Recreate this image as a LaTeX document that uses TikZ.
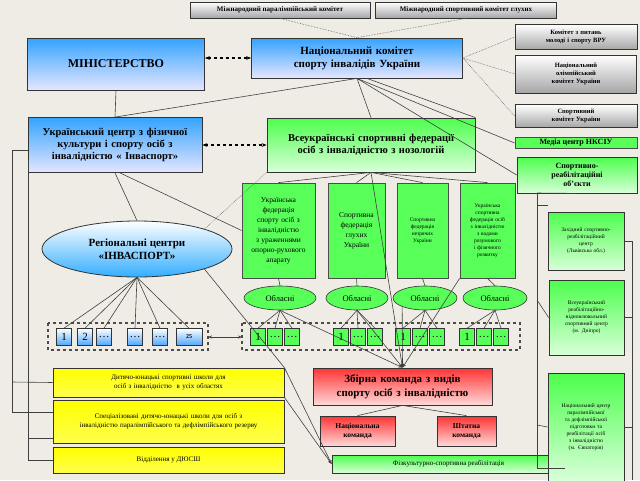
\documentclass[tikz,border=0pt]{standalone}
\usepackage{fontspec}
\setmainfont{Liberation Serif}
\usetikzlibrary{shapes.geometric,arrows.meta}
\definecolor{bg}{RGB}{238,236,228}
\begin{document}
\begin{tikzpicture}[x=1pt,y=-1pt,
 bx/.style={draw=black!80,line width=0.8pt,align=center,font=\bfseries,inner sep=1pt},
 blue/.style={bx,top color=blue!45!cyan!80,bottom color=white!90!blue},
 gray/.style={bx,top color=white,bottom color=black!35},
 grn/.style={bx,fill=green!65,draw=black!70},
 grg/.style={bx,top color=green!70,bottom color=white!85!green},
 yel/.style={bx,font=\normalfont,top color=yellow,bottom color=yellow!70!white},
 red/.style={bx,top color=red!80,bottom color=white!85!red},
 ln/.style={black!75,line width=0.6pt},
 dl/.style={black!60,densely dotted,line width=0.6pt},
 sq/.style={draw=black!80,line width=0.6pt,minimum width=15pt,minimum height=17pt,inner sep=0pt,font=\fontsize{11}{11}\selectfont}]
\fill[bg] (0,0) rectangle (640,480);
\useasboundingbox (0,0) rectangle (640,480);
\node[gray,font=\bfseries\fontsize{7}{8}\selectfont,minimum width=180,minimum height=16] (mpc) at (280,10) {Міжнародний паралімпійський комітет};
\node[gray,font=\bfseries\fontsize{7}{8}\selectfont,minimum width=181,minimum height=16] (msk) at (466,10) {Міжнародний спортивний комітет глухих};
\node[blue,font=\bfseries\fontsize{12}{14}\selectfont,minimum width=177,minimum height=52] (min) at (116,64) {МІНІСТЕРСТВО};
\node[blue,font=\bfseries\fontsize{11}{13}\selectfont,minimum width=211,minimum height=40,text width=190] (nk) at (357,58) {Національний комітет спорту інвалідів України};
\node[gray,font=\bfseries\fontsize{6.5}{8}\selectfont,minimum width=122,minimum height=25,text width=95] (kvru) at (576,37) {Комітет з питань молоді і спорту ВРУ};
\node[gray,font=\bfseries\fontsize{6.5}{8}\selectfont,minimum width=121,minimum height=38,text width=75] (nok) at (576,74) {Національний олімпійський комітет України};
\node[gray,font=\bfseries\fontsize{6.5}{8}\selectfont,minimum width=122,minimum height=23,text width=70] (sk) at (576,116) {Спортивний комітет України};
\node[grn,font=\bfseries\fontsize{8}{9}\selectfont,minimum width=122,minimum height=11] (media) at (576,143) {Медіа центр НКСІУ};
\node[grg,font=\bfseries\fontsize{8}{9}\selectfont,minimum width=120,minimum height=36,text width=80] (sro) at (577,175) {Спортивно-реабілітаційні об’єкти};
\node[blue,font=\bfseries\fontsize{10.5}{12}\selectfont,minimum width=174,minimum height=55,text width=165] (uc) at (115,145) {Український центр з фізичної культури і спорту осіб з інвалідністю « Інваспорт»};
\node[grg,font=\bfseries\fontsize{10.5}{12}\selectfont,minimum width=208,minimum height=54,text width=185] (vsf) at (371,145) {Всеукраїнські спортивні федерації осіб з інвалідністю з нозологій};
\node[grn,font=\normalfont\fontsize{7.5}{10}\selectfont,minimum width=73,minimum height=95,text width=56] (f1) at (278.5,230.5) {Українська федерація спорту осіб з інвалідністю з ураженнями опорно-рухового апарату};
\node[grn,font=\normalfont\fontsize{7.5}{10}\selectfont,minimum width=57,minimum height=95,text width=44] (f2) at (356.5,230.5) {Спортивна федерація глухих України};
\node[grn,font=\normalfont\fontsize{5.5}{7}\selectfont,minimum width=51,minimum height=95,text width=36] (f3) at (422.5,230.5) {Спортивна федерація незрячих України};
\node[grn,font=\normalfont\fontsize{5.5}{7}\selectfont,minimum width=55,minimum height=95,text width=40] (f4) at (487.5,230.5) {Українська спортивна федерація осіб з інвалідністю з вадами розумового і фізичного розвитку};
\node[ellipse,draw=black!80,line width=0.8pt,top color=white,bottom color=blue!40!cyan!80,font=\bfseries\fontsize{11}{13}\selectfont,minimum width=190,minimum height=56,align=center] (rc) at (137,249) {Регіональні центри\\«ІНВАСПОРТ»};
\foreach \n/\x/\w in {o1/280/72,o2/357/62,o3/425/64,o4/495/64}
 \node[ellipse,draw=black!80,line width=0.6pt,fill=green!65,minimum width=\w,minimum height=24,inner sep=0pt,font=\fontsize{8.5}{9}\selectfont] (\n) at (\x,298) {Обласні};
\draw[dashed,line width=1.5pt,black!70] (48,323) rectangle (208,350);
\draw[dashed,line width=1.5pt,black!70] (242,323) rectangle (520,350);
\coordinate (ld) at (208,337); \coordinate (rd) at (242,337);
\foreach \n/\x/\t in {b1/64/1,b2/85/2,b3/104/\dots,b4/135/\dots,b5/160/\dots}
 \node[sq,top color=white,bottom color=blue!50!cyan!70] (\n) at (\x,337) {\t};
\node[sq,minimum width=26,top color=white,bottom color=blue!50!cyan!70,font=\bfseries\fontsize{6}{7}\selectfont] (b6) at (189,337) {25};
\foreach \g/\x in {1/258,2/341,3/403,4/467}{
 \node[sq,fill=green!65] (g\g a) at (\x,337) {1};
 \node[sq,fill=green!65] (g\g b) at (\x+17,337) {\dots};
 \node[sq,fill=green!65] (g\g c) at (\x+34,337) {\dots};}
\node[yel,font=\fontsize{7}{9}\selectfont,minimum width=231,minimum height=29,text width=190] (y1) at (168.5,382.5) {Дитячо-юнацькі спортивні школи для осіб з інвалідністю \ в усіх областях};
\node[yel,font=\fontsize{7}{9}\selectfont,minimum width=231,minimum height=43,text width=195] (y2) at (168.5,421.5) {Спеціалізовані дитячо-юнацькі школи для осіб з інвалідністю паралімпійського та дефлімпійського резерву};
\node[yel,font=\fontsize{7}{9}\selectfont,minimum width=231,minimum height=26] (y3) at (168.5,460) {Відділення у ДЮСШ};
\node[red,font=\bfseries\fontsize{11}{14}\selectfont,minimum width=179,minimum height=37,text width=165] (zb) at (402.5,386.5) {Збірна команда з видів спорту осіб з інвалідністю};
\node[red,font=\bfseries\fontsize{7.5}{9}\selectfont,minimum width=75,minimum height=30,text width=60] (nc) at (357.5,431) {Національна команда};
\node[red,font=\bfseries\fontsize{7.5}{9}\selectfont,minimum width=59,minimum height=30,text width=45] (sc) at (466.5,431) {Штатна команда};
\node[grg,font=\normalfont\fontsize{7}{8}\selectfont,minimum width=233,minimum height=18] (fr) at (448.5,464) {Фізкультурно-спортивна реабілітація};
\node[grg,font=\normalfont\fontsize{5.5}{7}\selectfont,minimum width=76,minimum height=58,text width=52] (r1) at (586,241) {Західний спортивно-реабілітаційний центр (Львівська обл.)};
\node[grg,font=\normalfont\fontsize{5.5}{7}\selectfont,minimum width=75,minimum height=75,text width=56] (r2) at (586.5,317.5) {Всеукраїнський реабілітаційно-відновлювальний спортивний центр (м. Дніпро)};
\node[grg,font=\normalfont\fontsize{5.5}{7}\selectfont,minimum width=76,minimum height=108,text width=56] (r3) at (586,427) {Національний центр паралімпійської та дефлімпійської підготовки та реабілітації осіб з інвалідністю (м. Євпаторія)};
% dashed arrows
\draw[dashed,line width=1.2pt,{Stealth[length=5pt]}-{Stealth[length=5pt]}] (min.east|-nk) -- (nk.west);
\draw[dashed,line width=1.2pt,{Stealth[length=5pt]}-{Stealth[length=5pt]}] (uc.east) -- (vsf.west);
% dotted links
\draw[dl] (mpc.south) -- (nk.north); \draw[dl] (msk.south) -- (nk.north);
\draw[dl] (nk.east) -- (kvru.west); \draw[dl] (nk.east) -- (nok.west); \draw[dl] (nk.east) -- (sk.west);
\draw[dl] (vsf.south west) -- (rc.north east);
% solid links
\draw[ln] (min.south) -- (uc.north);
\draw[ln] (nk.south) -- (uc.north);
\draw[ln] (nk.south) -- (vsf.north);
\draw[ln] (nk.south) ++(10,0) -- (vsf.north east);
\draw[ln] (nk.south) -- (media.west);
\draw[ln] (nk.south) -- (sro.west);
\foreach \f in {f1,f2,f3,f4} \draw[ln] (vsf.south) -- (\f.north);
\draw[ln] (uc.south) -- (rc.north);
\draw[ln] (uc.south) ++(5,0) -- (f1.west);
\foreach \b in {b1,b2,b3,b4,b5,b6} \draw[ln] (rc.south) -- (\b.north);
\foreach \f/\o in {f1/o1,f2/o2,f3/o3,f4/o4} \draw[ln] (\f.south) -- (\o.north);
\foreach \g/\o in {1/o1,2/o2,3/o3,4/o4}{\draw[ln] (\o.south) -- (g\g a.north); \draw[ln] (\o.south) -- (g\g b.north); \draw[ln] (\o.south) -- (g\g c.north);}
\draw[ln,-{Stealth[length=4pt]}] (o1.south) -- (zb.north);
\draw[ln,-{Stealth[length=4pt]}] (o2.south) -- (zb.north);
\draw[ln,-{Stealth[length=4pt]}] (o3.south west) -- (zb.north);
\draw[ln,-{Stealth[length=4pt]}] (f4.south west) -- (zb.north);
\draw[ln,-{Stealth[length=4pt]}] (vsf.south) -- (zb.north);
\draw[ln,{Stealth[length=4pt]}-{Stealth[length=4pt]}] (ld) -- (rd);
\draw[ln] (zb.south) -- (nc.north); \draw[ln] (zb.south) -- (sc.north);
\draw[ln,-{Stealth[length=4pt]}] (rc.south east) -- (y1.north east) -- (fr.west);
\draw[ln,-{Stealth[length=4pt]}] (y1.south east) -- (fr.west);
% left bracket
\draw[ln] (uc.west|-0,150) -- (12,150) -- (12,412) -- (y2.west|-0,412);
\draw[ln] (28,160) -- (28,460) -- (y3.west);
\draw[ln] (12,382) -- (y1.west);
\draw[ln] (28,438) -- (y2.west|-0,438);
\draw[ln] (28,160) -- (uc.west|-0,160);
% right bracket
\draw[ln] (537,193) -- (537,468) -- (fr.east|-0,468);
\draw[ln] (537,205) -- (r1.west|-0,205);
\draw[ln] (537,300) -- (r2.west);
\draw[ln] (537,425) -- (r3.west);
\draw[ln] (r1.east) -- (632,241) -- (632,480);
\draw[ln] (r2.east) -- (632,317.5);
\draw[ln] (r3.east) -- (632,427);
\draw[ln] (sro.south) -- (537,193);
\end{tikzpicture}
\end{document}
